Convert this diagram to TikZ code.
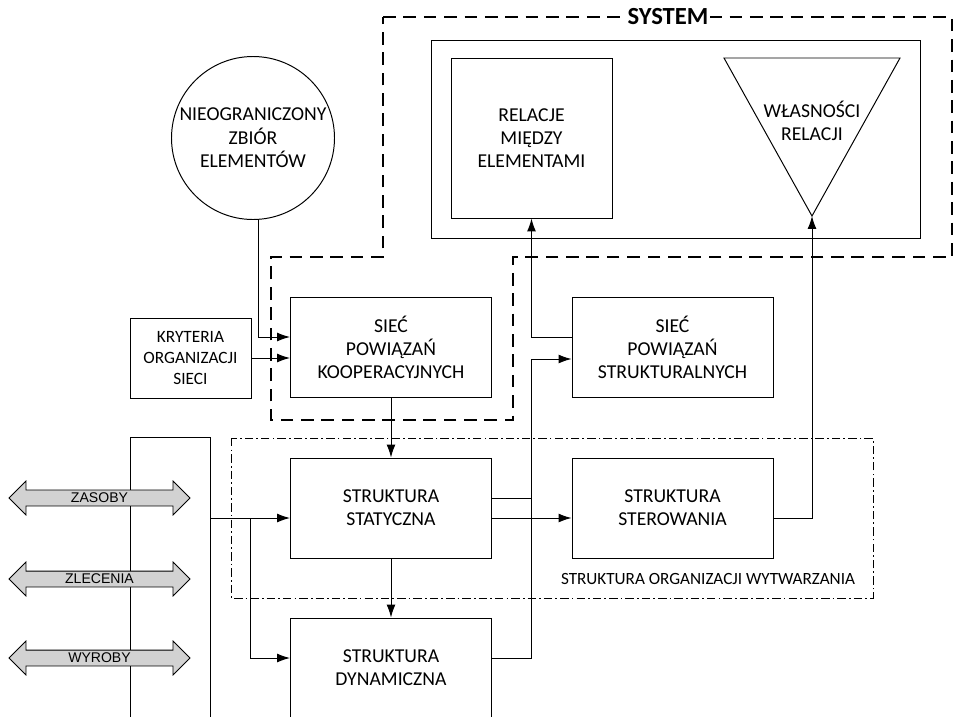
\documentclass[tikz,border=0pt]{standalone}
\usepackage{fontspec}
\setmainfont{Carlito}
\newfontfamily\arialfont{Liberation Sans}
\usepackage{tikz}
\usetikzlibrary{arrows.meta,positioning,shapes.arrows,calc}

\tikzset{
  blok/.style={draw, line width=0.7pt, minimum width=50.25mm, minimum height=25mm,
    align=center, inner sep=1pt, font=\fontsize{14}{16.4}\selectfont},
  polaczenie/.style={line width=0.7pt},
  systemramka/.style={line width=1.6pt, dash pattern=on 9pt off 5.5pt},
  organizacja/.style={line width=0.6pt, dash pattern=on 6pt off 2.2pt on 1.2pt off 2.2pt},
  przeplyw/.style={double arrow, draw, line width=0.6pt, fill=gray!35,
    minimum height=45.25mm, double arrow head extend=2.25mm, inner xsep=1pt, inner ysep=1.8pt,
    font=\arialfont\fontsize{10}{11}\selectfont},
}

\begin{document}
\begin{tikzpicture}[x=0.25mm, y=-0.25mm, >={Latex[length=3.2mm,width=2.2mm]}]

\useasboundingbox (0,0) rectangle (954,717);
\clip (0,0) rectangle (954,717);

% ==========================================
% SYSTEM: dashed outline, relations and their properties
% ==========================================
\draw[systemramka] (383,17) -- (952,17) -- (952,257) -- (513,257) -- (513,420)
  -- (271,420) -- (271,257) -- (383,257) -- cycle;
\node[fill=white, inner sep=1pt, font=\bfseries\fontsize{17.5}{20}\selectfont] (system) at (668,17) {SYSTEM};

% Inner frame
\draw[line width=0.7pt] (431,40) rectangle (920,238);

% Relations between elements
\node[blok, minimum width=40.25mm, minimum height=40mm] (relacje) at (531.5,138) {RELACJE\\MIĘDZY\\ELEMENTAMI};

% Properties of relations (inverted triangle)
\coordinate (apex) at (812,216);
\draw[line width=0.7pt] (724,58) -- (900,58) -- (apex) -- cycle;
\node[align=center, font=\fontsize{14}{16.4}\selectfont] (wlasnosci) at (812,121) {WŁASNOŚCI\\RELACJI};

% ==========================================
% Elements and network criteria
% ==========================================
\node[circle, draw, line width=0.7pt, minimum size=40.75mm, inner sep=0pt, align=center,
  font=\fontsize{14}{16.8}\selectfont] (zbior) at (253,138) {NIEOGRANICZONY\\ZBIÓR\\ELEMENTÓW};

\node[blok, minimum width=30.25mm, minimum height=20mm, font=\fontsize{12.3}{14.6}\selectfont]
  (kryteria) at (190.5,358) {KRYTERIA\\ORGANIZACJI\\SIECI};

% Networks
\node[blok] (koop) at (391,347) {SIEĆ\\POWIĄZAŃ\\KOOPERACYJNYCH};
\node[blok] (strukt) at (672.5,347) {SIEĆ\\POWIĄZAŃ\\STRUKTURALNYCH};

% ==========================================
% Production organisation structure
% ==========================================
\draw[organizacja] (231,438) rectangle (873,598);
\node[font=\fontsize{12.2}{14}\selectfont] (wytwarzanie) at (708,579) {STRUKTURA ORGANIZACJI WYTWARZANIA};

\node[blok] (statyczna) at (391,508) {STRUKTURA\\STATYCZNA};
\node[blok] (sterowanie) at (672.5,508) {STRUKTURA\\STEROWANIA};
\node[blok] (dynamiczna) at (391,668) {STRUKTURA\\DYNAMICZNA};

% Environment frame with resource flows
\draw[polaczenie] (130,720) -- (130,437) -- (210,437) -- (210,720);
\node[przeplyw] (zasoby) at (99.5,498) {ZASOBY};
\node[przeplyw] (zlecenia) at (99.5,579) {ZLECENIA};
\node[przeplyw] (wyroby) at (99.5,658) {WYROBY};

% ==========================================
% Connections
% ==========================================
\coordinate (s1) at ($(strukt.west)+(0,-10)$);
\coordinate (s2) at ($(strukt.west)+(0,12)$);
\coordinate (t1) at ($(statyczna.east)+(0,-10)$);
\coordinate (t2) at ($(statyczna.east)+(0,10)$);
\coordinate (wejscie) at (210,518);
\coordinate (rozgal) at (250,518);

\draw[polaczenie, ->] (zbior.-86) |- ($(koop.west)+(0,-10)$);
\draw[polaczenie, ->] (kryteria.east) -- (kryteria.east -| koop.west);
\draw[polaczenie, ->] (koop) -- (statyczna);
\draw[polaczenie, ->] (statyczna) -- (dynamiczna);

\draw[polaczenie, ->] (s1) -| (relacje.south);
\draw[polaczenie, ->] ($(dynamiczna.east)+(0,-10)$) -| (s2 -| relacje.south) -- (s2);
\draw[polaczenie] (t1) -- (t1 -| relacje.south);
\draw[polaczenie, ->] (t2) -- (t2 -| sterowanie.west);
\draw[polaczenie, ->] ($(sterowanie.east)+(0,10)$) -| (apex);

\draw[polaczenie, ->] (wejscie) -- ($(statyczna.west)+(0,10)$);
\draw[polaczenie, ->] (rozgal) |- ($(dynamiczna.west)+(0,-10)$);

\end{tikzpicture}
\end{document}
